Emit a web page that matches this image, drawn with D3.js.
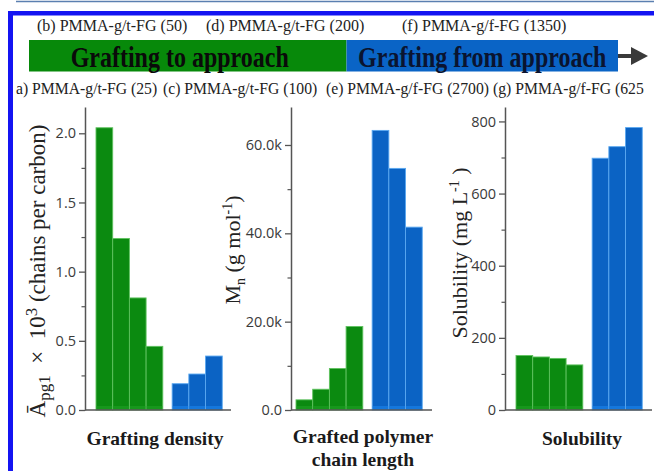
<!DOCTYPE html>
<html>
<head>
<meta charset="utf-8">
<script src="https://cdn.jsdelivr.net/npm/d3@7"></script>
<style>
  body { margin: 0; background: #fff; }
</style>
</head>
<body>
<div id="chart"></div>
<script>
var svgWidth = 654;
var svgHeight = 471;

// samples in drawing order: grafting to (a-d), grafting from (e-g)
var samples = ["a", "b", "c", "d", "e", "f", "g"];
var groups = ["to", "to", "to", "to", "from", "from", "from"];
var density = [2.04, 1.24, 0.81, 0.46, 0.19, 0.26, 0.39];
var mn = [2300, 4700, 9400, 18900, 63300, 54700, 41400];
var solubility = [151, 147, 143, 125, 698, 730, 783];

var densityTicks = [0, 0.5, 1.0, 1.5, 2.0];
var mnTicks = [0, 20000, 40000, 60000];
var solubilityTicks = [0, 200, 400, 600, 800];

var topLabels = ["(b) PMMA-g/t-FG (50)", "(d) PMMA-g/t-FG (200)", "(f) PMMA-g/f-FG (1350)"];
var bottomLabels = ["a) PMMA-g/t-FG (25)", "(c) PMMA-g/t-FG (100)", "(e) PMMA-g/f-FG (2700)", "(g) PMMA-g/f-FG (625"];
var approaches = ["Grafting to approach", "Grafting from approach"];

var colors = {
  to: { fill: "#0b8a10", edge: "#5fc25f", foot: "#20a025", head: "#07890a", text: "#0a0a0a" },
  from: { fill: "#0b63c4", edge: "#5aa8f0", foot: "#1c86ec", head: "#0a64c6", text: "#0a1430" }
};

var serif = "'Liberation Serif', 'Times New Roman', serif";
var sans = "'Open Sans', 'Liberation Sans', sans-serif";

var svg = d3.select("#chart")
  .append("svg")
  .attr("width", svgWidth)
  .attr("height", svgHeight);

// page furniture: thin rule at top, blue frame open to the right and bottom
svg.append("line")
  .attr("x1", 16).attr("x2", svgWidth)
  .attr("y1", 1.5).attr("y2", 1.5)
  .attr("stroke", "#5b7fb0")
  .attr("stroke-width", 1.6);

svg.append("rect")
  .attr("x", 8).attr("y", 11)
  .attr("width", svgWidth - 8).attr("height", 4.5)
  .attr("fill", "#1414f2");

svg.append("rect")
  .attr("x", 8).attr("y", 11)
  .attr("width", 5).attr("height", svgHeight - 11)
  .attr("fill", "#1414f2");

// approach banner
var banner = { x0: 29, split: 346.5, x1: 618, top: 40, bottom: 71.5 };
var bannerX = d3.scaleOrdinal().domain(["to", "from"]).range([[banner.x0, banner.split], [banner.split, banner.x1]]);

["to", "from"].forEach(function(g, i) {
  var r = bannerX(g);
  svg.append("rect")
    .attr("x", r[0]).attr("y", banner.top)
    .attr("width", r[1] - r[0]).attr("height", banner.bottom - banner.top)
    .attr("fill", colors[g].head);

  svg.append("text")
    .attr("transform", "translate(" + ((r[0] + r[1]) / 2 - (i === 0 ? 8 : 0)) + ",67) scale(1,1.2)")
    .attr("text-anchor", "middle")
    .style("font-family", serif)
    .style("font-weight", "bold")
    .style("font-size", "24px")
    .style("fill", colors[g].text)
    .text(approaches[i]);
});

// arrow after the banner
svg.append("line")
  .attr("x1", banner.x1).attr("x2", 634)
  .attr("y1", 56).attr("y2", 56)
  .attr("stroke", "#3a3a3a")
  .attr("stroke-width", 4);

svg.append("path")
  .attr("d", "M631,47 L648,56 L631,65 Z")
  .attr("fill", "#3a3a3a");

// sample names above and below the banner
var topX = [37, 206, 402];
var bottomX = [16, 163, 326, 493];

svg.selectAll(".topLabel")
  .data(topLabels)
  .enter()
  .append("text")
  .attr("class", "topLabel")
  .attr("x", (d, i) => topX[i])
  .attr("y", 31)
  .style("font-family", serif)
  .style("font-size", "16px")
  .style("fill", "#222")
  .text(d => d);

svg.selectAll(".bottomLabel")
  .data(bottomLabels)
  .enter()
  .append("text")
  .attr("class", "bottomLabel")
  .attr("x", (d, i) => bottomX[i])
  .attr("y", 94)
  .style("font-family", serif)
  .style("font-size", "15.7px")
  .style("fill", "#222")
  .text(d => d);

// the three bar panels
var axisTop = 107;
var axisBottom = 410;
var barWidth = 16.7;
var gapFrac = 0.56;

// label parts: [text, 0 normal | 1 subscript | 2 superscript]
var panels = [
  {
    values: density, max: 2.19, ticks: densityTicks,
    minor: [0.25, 0.75, 1.25, 1.75],
    fmt: d3.format(".1f"),
    axisX: 85, barX: 96, axisEnd: 231,
    label: [["Ā", 0], ["pg1", 1], ["\u2002×\u200210", 0], ["3", 2], [" (chains per carbon)", 0]],
    labelSize: 23, subSize: 17,
    labelX: 45, labelY: 271,
    title: ["Grafting density"], titleX: 155
  },
  {
    values: mn, max: 68600, ticks: mnTicks,
    minor: [10000, 30000, 50000],
    fmt: d => d === 0 ? "0.0" : d3.format(".1f")(d / 1000) + "k",
    axisX: 291, barX: 296, axisEnd: 432,
    label: [["M", 0], ["n", 1], [" (g mol", 0], ["-1", 2], [")", 0]],
    labelSize: 22, subSize: 14,
    labelX: 240, labelY: 250,
    title: ["Grafted polymer", "chain length"], titleX: 363
  },
  {
    values: solubility, max: 840, ticks: solubilityTicks,
    minor: [100, 300, 500, 700],
    fmt: d3.format("d"),
    axisX: 505, barX: 516, axisEnd: 652,
    label: [["Solubility (mg L", 0], ["-1", 2], [" )", 0]],
    labelSize: 22, subSize: 14,
    labelX: 467, labelY: 253,
    title: ["Solubility"], titleX: 582
  }
];

panels.forEach(function(p) {
  var g = svg.append("g");

  var y = d3.scaleLinear()
    .domain([0, p.max])
    .range([axisBottom, axisTop]);

  var slot = d3.scaleLinear()
    .domain([0, samples.length + gapFrac])
    .range([p.barX, p.barX + (samples.length + gapFrac) * barWidth]);

  var pos = (d, i) => slot(i + (groups[i] === "from" ? gapFrac : 0));

  // bars
  g.selectAll(".bar")
    .data(p.values)
    .enter()
    .append("rect")
    .attr("class", "bar")
    .attr("x", pos)
    .attr("y", d => y(d))
    .attr("width", barWidth)
    .attr("height", d => y(0) - y(d))
    .attr("fill", (d, i) => colors[groups[i]].fill)
    .attr("stroke", (d, i) => colors[groups[i]].edge)
    .attr("stroke-width", 0.9);

  // lighter foot at the base of each bar
  g.selectAll(".foot")
    .data(p.values)
    .enter()
    .append("rect")
    .attr("class", "foot")
    .attr("x", (d, i) => pos(d, i) + 0.5)
    .attr("y", y(0) - 4)
    .attr("width", barWidth - 1)
    .attr("height", 3.5)
    .attr("fill", (d, i) => colors[groups[i]].foot)
    .attr("opacity", 0.6);

  // y axis, major and minor ticks
  var yAxis = g.append("g")
    .attr("transform", "translate(" + p.axisX + ",0)")
    .call(d3.axisLeft(y).tickValues(p.ticks).tickFormat(p.fmt).tickSize(6).tickSizeOuter(0).tickPadding(3));

  yAxis.select(".domain").attr("stroke", "#555").attr("stroke-width", 1.5);
  yAxis.selectAll(".tick line").attr("stroke", "#555").attr("stroke-width", 1.3);
  yAxis.selectAll(".tick text")
    .style("font-family", sans)
    .style("font-size", "14.5px")
    .style("fill", "#3a3a3a");

  var minorAxis = g.append("g")
    .attr("transform", "translate(" + p.axisX + ",0)")
    .call(d3.axisLeft(y).tickValues(p.minor).tickFormat("").tickSize(3.5).tickSizeOuter(0));
  minorAxis.select(".domain").remove();
  minorAxis.selectAll(".tick line").attr("stroke", "#555").attr("stroke-width", 1.2);

  // x axis baseline
  g.append("line")
    .attr("x1", p.axisX).attr("x2", p.axisEnd)
    .attr("y1", y(0)).attr("y2", y(0))
    .attr("stroke", "#555")
    .attr("stroke-width", 1.5);

  // y axis label with sub/superscripts
  var lab = g.append("text")
    .attr("transform", "translate(" + p.labelX + "," + p.labelY + ") rotate(-90)")
    .attr("text-anchor", "middle")
    .style("font-family", serif)
    .style("font-size", p.labelSize + "px")
    .style("fill", "#222");

  var shift = 0;
  p.label.forEach(function(part) {
    var target = part[1] === 1 ? 5 : part[1] === 2 ? -8 : 0;
    lab.append("tspan")
      .attr("dy", target - shift)
      .style("font-size", (part[1] ? p.subSize : p.labelSize) + "px")
      .text(part[0]);
    shift = target;
  });

  // x axis title
  g.selectAll(".title")
    .data(p.title)
    .enter()
    .append("text")
    .attr("class", "title")
    .attr("x", p.titleX)
    .attr("y", (d, i) => (p.title.length > 1 ? 443 : 445) + i * 23)
    .attr("text-anchor", "middle")
    .style("font-family", serif)
    .style("font-weight", "bold")
    .style("font-size", "19.5px")
    .style("fill", "#1a1a1a")
    .text(d => d);
});
</script>
</body>
</html>
